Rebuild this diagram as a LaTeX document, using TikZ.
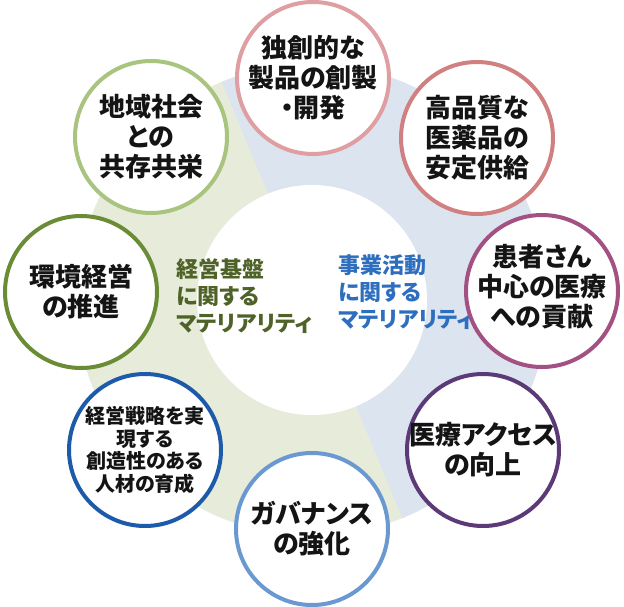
\documentclass[tikz,border=0pt]{standalone}
\usepackage{fontspec}
\setmainfont{Noto Sans CJK JP}[RawFeature=+palt]
\definecolor{ringgreen}{RGB}{231,236,218}
\definecolor{ringblue}{RGB}{220,228,240}
\definecolor{gtext}{RGB}{79,98,40}
\definecolor{btext}{RGB}{46,110,190}
\definecolor{txtblack}{RGB}{20,20,20}
\definecolor{ca}{RGB}{222,158,162}
\definecolor{cb}{RGB}{208,128,128}
\definecolor{cc}{RGB}{163,80,130}
\definecolor{cd}{RGB}{92,58,120}
\definecolor{ce}{RGB}{106,152,208}
\definecolor{cf}{RGB}{30,90,170}
\definecolor{cg}{RGB}{106,140,53}
\definecolor{ch}{RGB}{168,196,126}
\begin{document}
\begin{tikzpicture}[x=1pt,y=-1pt,
  ringnode/.style={circle, draw, line width=4pt, fill=white, minimum size=152pt, inner sep=0pt},
  lab/.style={align=center, inner sep=0pt, text=txtblack, font=\bfseries\fontsize{26}{30}\selectfont},
  labsmall/.style={align=center, inner sep=0pt, text=txtblack, font=\bfseries\fontsize{20}{22.5}\selectfont},
  midlab/.style={align=left, inner sep=0pt, anchor=west, font=\bfseries\fontsize{22}{27}\selectfont}]
\useasboundingbox (0,0) rectangle (624,607);
\fill[white] (0,0) rectangle (624,607);
\begin{scope}[shift={(312,300)}]
  \fill[ringgreen] (0,0) circle (236);
  \begin{scope}
    \clip (0,0) -- (-112.5:600) -- (-67.5:600) -- (-22.5:600) -- (22.5:600) -- (67.5:600) -- cycle;
    \fill[ringblue] (0,0) circle (236);
  \end{scope}
  \fill[white] (0,0) circle (115);
\end{scope}

\node[midlab, text=gtext] (g) at (176,296) {経営基盤\\に関する\\マテリアリティ};
\node[midlab, text=btext] (b) at (338,292) {事業活動\\に関する\\マテリアリティ};

\node[ringnode, draw=ca] (n1) at (313,78) {};
\node[lab] (t1) at (n1) {独創的な\\製品の創製\\・開発};
\node[ringnode, draw=cb] (n2) at (477,138) {};
\node[lab] (t2) at (n2) {高品質な\\医薬品の\\安定供給};
\node[ringnode, draw=cc] (n3) at (542,291) {};
\node[lab] (t3) at ([yshift=4]n3.center) {患者さん\\中心の医療\\への貢献};
\node[ringnode, draw=cd] (n4) at (483,450) {};
\node[lab] (t4) at (n4) {医療アクセス\\の向上};
\node[ringnode, draw=ce] (n5) at (312,529) {};
\node[lab] (t5) at (n5) {ガバナンス\\の強化};
\node[ringnode, draw=cf] (n6) at (145,450) {};
\node[labsmall] (t6) at (n6) {経営戦略を実\\現する\\創造性のある\\人材の育成};
\node[ringnode, draw=cg] (n7) at (81,292) {};
\node[lab] (t7) at (n7) {環境経営\\の推進};
\node[ringnode, draw=ch] (n8) at (151,137) {};
\node[lab] (t8) at (n8) {地域社会\\との\\共存共栄};
\end{tikzpicture}
\end{document}
